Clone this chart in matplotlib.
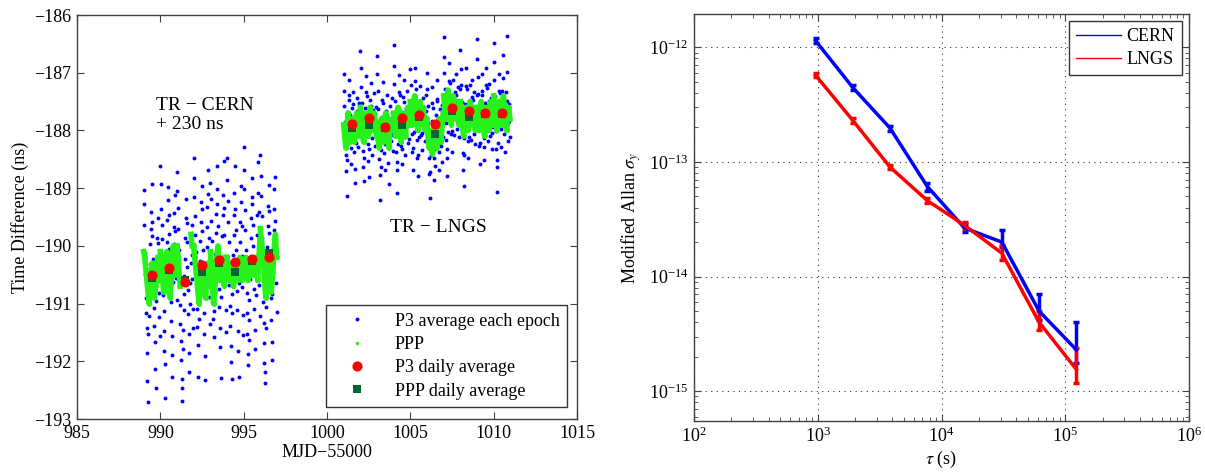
import numpy as np
import matplotlib
matplotlib.use("Agg")
import matplotlib.pyplot as plt
from matplotlib.lines import Line2D
from matplotlib.ticker import NullFormatter

plt.rcParams['font.family'] = ['Liberation Serif', 'DejaVu Serif']
plt.rcParams['mathtext.fontset'] = 'stix'
plt.rcParams['font.size'] = 13

# ---------------- left panel data (MJD-55000, ns) ----------------
cern_days = [989, 990, 991, 992, 993, 994, 995, 996]
lngs_days = [1001, 1002, 1003, 1004, 1005, 1006, 1007, 1008, 1009, 1010]

# P3 average each epoch, one list per day
cern_p3 = [
    [-189.04, -189.27, -189.63, -190.12, -190.48, -190.91, -191.16, -191.42, -191.85, -192.34,
     -192.71, -191.53, -191.22, -190.87, -190.66, -190.31, -189.96, -189.71, -189.42, -188.93,
     -189.58, -189.83, -190.22, -190.57, -190.74, -191.07, -191.38, -191.66, -192.13, -192.46,
     -190.95, -190.42, -190.18, -189.87, -189.52, -189.95, -190.36, -190.81, -191.24, -191.57],
    [-188.61, -188.92, -189.37, -189.64, -189.88, -190.17, -190.53, -190.86, -191.13, -191.48,
     -191.82, -192.04, -192.63, -190.77, -190.45, -190.28, -189.93, -189.55, -189.21, -188.98,
     -189.46, -189.79, -190.06, -190.39, -190.71, -190.97, -191.31, -191.57, -191.89, -192.27,
     -190.62, -190.33, -189.96, -189.68, -189.43, -189.12, -189.74, -190.21, -190.55, -190.93],
    [-188.72, -189.05, -189.34, -189.71, -190.08, -190.41, -190.69, -191.03, -191.36, -191.64,
     -191.97, -192.31, -192.68, -192.47, -191.78, -191.46, -191.12, -190.84, -190.52, -190.23,
     -189.87, -189.52, -189.18, -189.61, -189.94, -190.37, -190.76, -191.18, -191.52, -191.86,
     -192.18, -191.01, -190.64, -190.29, -189.97, -189.63, -190.15, -190.58, -191.09, -191.42],
    [-188.47, -188.83, -189.16, -189.49, -189.82, -190.11, -190.43, -190.78, -191.09, -191.41,
     -191.72, -192.28, -191.26, -190.94, -190.62, -190.27, -189.91, -189.58, -189.24, -188.96,
     -189.37, -189.74, -190.08, -190.46, -190.83, -191.17, -191.53, -191.91, -192.33, -190.71,
     -190.38, -190.02, -189.67, -189.33, -188.69, -189.11, -189.86, -190.31, -190.88, -191.36],
    [-188.91, -189.19, -189.57, -189.92, -190.26, -190.63, -190.98, -191.27, -191.58, -191.13,
     -190.81, -190.47, -190.14, -189.78, -189.44, -189.02, -188.62, -189.28, -189.66, -190.04,
     -190.39, -190.74, -191.06, -191.42, -191.76, -192.29, -190.88, -190.53, -190.19, -189.83,
     -189.47, -189.12, -188.53, -189.35, -189.81, -190.23, -190.68, -191.11, -191.49, -190.41],
    [-188.48, -188.86, -189.23, -189.59, -189.94, -190.32, -190.67, -191.04, -191.38, -191.73,
     -192.02, -192.31, -191.17, -190.83, -190.49, -190.16, -189.81, -189.47, -189.09, -188.61,
     -189.36, -189.72, -190.07, -190.42, -190.79, -191.12, -191.47, -191.83, -192.28, -190.64,
     -190.27, -189.93, -189.58, -189.24, -188.97, -189.65, -190.18, -190.72, -191.19, -191.54],
    [-188.29, -188.68, -189.02, -189.38, -189.73, -190.08, -190.44, -190.81, -191.16, -191.52,
     -191.88, -192.07, -191.63, -191.28, -190.93, -190.58, -190.22, -189.87, -189.51, -189.16,
     -188.82, -189.27, -189.64, -190.01, -190.38, -190.74, -191.09, -191.46, -191.79, -190.86,
     -190.51, -190.17, -189.82, -189.46, -189.08, -188.54, -189.41, -190.13, -190.67, -191.21],
    [-188.43, -188.79, -189.13, -189.48, -189.86, -190.24, -190.61, -190.97, -191.34, -191.69,
     -192.03, -192.38, -192.19, -191.42, -191.06, -190.72, -190.37, -190.02, -189.66, -189.31,
     -188.94, -189.39, -189.77, -190.15, -190.53, -190.91, -191.28, -191.66, -191.97, -190.84,
     -190.46, -190.09, -189.73, -189.37, -189.02, -188.81, -189.57, -190.12, -190.64, -191.15],
]

lngs_p3 = [
    [-187.02, -187.31, -187.58, -187.86, -188.14, -188.43, -188.71, -189.13, -188.52, -188.26,
     -187.97, -187.68, -187.39, -187.12, -187.47, -187.74, -188.03, -188.31, -188.58, -188.17,
     -187.89, -187.61, -187.33, -187.55, -187.82, -188.09, -188.37, -188.66, -188.91, -188.22,
     -187.94, -187.66, -187.43, -187.71, -187.99, -188.28, -188.05, -187.78, -187.52, -187.84],
    [-186.63, -186.92, -187.24, -187.53, -187.81, -188.08, -188.36, -188.64, -188.87, -188.48,
     -188.19, -187.91, -187.62, -187.34, -187.05, -187.41, -187.69, -187.96, -188.24, -188.53,
     -188.81, -188.33, -188.04, -187.76, -187.47, -187.18, -187.57, -187.86, -188.13, -188.42,
     -187.93, -187.64, -187.36, -187.72, -188.01, -188.27, -187.83, -187.59, -187.88, -188.16],
    [-186.71, -187.03, -187.32, -187.63, -187.92, -188.21, -188.49, -188.78, -189.21, -188.63,
     -188.34, -188.06, -187.77, -187.48, -187.16, -187.52, -187.81, -188.11, -188.39, -188.68,
     -188.24, -187.95, -187.67, -187.38, -187.73, -188.02, -188.29, -188.57, -188.93, -188.14,
     -187.86, -187.58, -187.91, -188.19, -188.03, -187.69, -187.44, -187.79, -188.08, -188.36],
    [-186.52, -186.88, -187.19, -187.49, -187.78, -188.07, -188.38, -188.69, -189.08, -188.54,
     -188.23, -187.94, -187.63, -187.33, -187.04, -187.38, -187.68, -187.98, -188.27, -188.58,
     -188.32, -188.02, -187.73, -187.42, -187.13, -187.51, -187.82, -188.12, -188.43, -187.92,
     -187.61, -187.31, -187.64, -187.93, -188.21, -187.84, -187.57, -187.86, -188.14, -187.72],
    [-186.94, -187.21, -187.49, -187.77, -188.06, -188.38, -188.69, -188.31, -188.02, -187.73,
     -187.42, -187.14, -186.91, -187.28, -187.57, -187.86, -188.17, -188.47, -188.79, -188.43,
     -188.12, -187.83, -187.54, -187.23, -187.51, -187.79, -188.08, -188.34, -188.04, -187.74,
     -187.44, -187.69, -187.98, -187.61, -187.89, -188.18, -187.94, -187.66, -187.38, -187.81],
    [-187.01, -187.29, -187.58, -187.87, -188.16, -188.47, -188.76, -189.17, -188.72, -188.43,
     -188.13, -187.84, -187.53, -187.24, -187.61, -187.91, -188.19, -188.48, -188.86, -188.62,
     -188.33, -188.04, -187.74, -187.45, -187.13, -187.49, -187.78, -188.07, -188.37, -188.68,
     -188.24, -187.93, -187.63, -187.97, -188.27, -188.54, -187.82, -187.56, -187.87, -188.11],
    [-186.38, -186.72, -187.01, -187.29, -187.58, -187.87, -188.16, -188.47, -188.79, -188.32,
     -188.03, -187.74, -187.43, -187.14, -186.83, -187.18, -187.47, -187.76, -188.06, -188.38,
     -188.01, -187.71, -187.42, -187.12, -187.46, -187.77, -188.08, -187.63, -187.34, -187.03,
     -187.39, -187.68, -187.97, -187.53, -187.24, -187.81, -188.12, -187.85, -187.57, -187.28],
    [-186.61, -186.93, -187.22, -187.51, -187.79, -188.09, -188.39, -188.68, -188.97, -188.42,
     -188.13, -187.83, -187.54, -187.23, -186.92, -187.28, -187.57, -187.88, -188.18, -188.47,
     -188.12, -187.82, -187.52, -187.21, -187.58, -187.87, -188.16, -187.71, -187.42, -187.12,
     -187.47, -187.77, -188.06, -187.63, -187.34, -187.92, -188.23, -187.96, -187.67, -187.39],
    [-186.42, -186.77, -187.08, -187.37, -187.66, -187.96, -188.27, -188.58, -188.21, -187.91,
     -187.62, -187.31, -187.02, -187.38, -187.67, -187.97, -188.28, -188.51, -188.13, -187.82,
     -187.53, -187.22, -186.91, -187.27, -187.58, -187.88, -188.18, -187.79, -187.49, -187.19,
     -187.56, -187.86, -188.09, -187.73, -187.43, -187.76, -188.04, -188.33, -187.94, -187.64],
    [-186.49, -186.81, -187.12, -187.41, -187.72, -188.01, -188.32, -188.63, -189.07, -188.52,
     -188.22, -187.92, -187.62, -187.31, -187.02, -187.36, -187.67, -187.98, -188.29, -187.91,
     -187.61, -187.32, -186.69, -187.09, -187.47, -187.78, -188.07, -188.38, -187.93, -187.63,
     -187.34, -186.37, -186.98, -187.49, -187.87, -188.18, -187.82, -187.54, -187.83, -188.12],
]

nan = np.nan
# PPP solution, one list per day
cern_ppp = [
    [-190.1, -190.2, -190.4, -190.6, -190.8, -191.0, -190.8, -190.5, -190.3, -190.6, -190.9, -190.7, -190.4, -190.2, -190.4, -190.6],
    [-190.1, -190.3, -190.5, -190.8, -190.6, -190.3, -190.1, -190.4, -190.7, -190.9, -190.6, -190.3, -190.0, -190.2, -190.5, -190.4],
    [-190.0, -190.2, -190.5, -190.7, nan, nan, nan, nan, nan, nan, nan, nan, nan, -189.8, -190.0, nan],
    [-190.0, -190.2, -190.4, -190.6, -190.8, -191.0, -190.7, -190.5, -190.3, -190.5, -190.7, -190.9, -190.6, -190.3, -190.5, -190.7],
    [-190.1, -190.4, -190.7, -191.0, -190.8, -190.5, -190.2, -190.0, -190.3, -190.6, -190.4, -190.2, -190.5, -190.7, -190.4, -190.2],
    [-190.2, -190.4, -190.6, -190.5, -190.3, -190.5, -190.7, -190.5, -190.3, -190.5, -190.6, -190.4, -190.2, -190.4, -190.6, -190.5],
    [-190.3, -190.4, -190.2, -190.4, -190.6, -190.5, -190.3, -190.2, -190.4, -190.5, -190.3, -190.2, -190.4, -190.6, -190.3, -189.9],
    [-189.7, -189.9, -190.1, -190.3, -190.6, -190.9, -190.7, -190.4, -190.2, -190.5, -190.8, -190.6, -190.3, -190.0, -189.8, -190.2],
]
lngs_ppp = [
    [-187.9, -188.1, -188.3, -188.0, -187.7, -187.9, -188.2, -188.0, -187.8, -188.1, -188.2, -187.9, -187.7, -188.0, -188.1, -187.9],
    [-187.6, -187.8, -188.0, -188.2, -187.9, -187.7, -187.9, -188.1, -187.8, -187.6, -187.8, -188.0, -187.9, -187.7, -187.9, -188.1],
    [-187.9, -188.1, -188.3, -188.0, -187.8, -188.0, -188.2, -187.9, -187.7, -187.9, -188.1, -188.3, -188.0, -187.8, -188.0, -187.9],
    [-187.7, -187.9, -188.1, -187.8, -187.6, -187.8, -188.0, -188.2, -187.9, -187.7, -187.9, -188.1, -187.8, -187.6, -187.8, -187.9],
    [-187.5, -187.7, -187.9, -187.6, -187.4, -187.6, -187.8, -188.0, -187.7, -187.5, -187.7, -187.9, -187.6, -187.8, -188.0, -187.8],
    [-187.9, -188.1, -188.3, -188.0, -188.2, -188.4, -188.1, -187.9, -188.1, -188.3, -188.0, -187.8, -188.0, -188.2, -187.9, -187.7],
    [-187.4, -187.6, -187.8, -187.5, -187.3, -187.5, -187.7, -187.9, -187.6, -187.4, -187.6, -187.8, -187.5, -187.7, -187.9, -187.6],
    [-187.5, -187.7, -187.9, -188.1, -187.8, -187.6, -187.8, -188.0, -187.7, -187.5, -187.7, -187.9, -187.6, -187.8, -188.0, -187.7],
    [-187.6, -187.8, -188.0, -187.7, -187.5, -187.7, -187.9, -188.1, -187.8, -187.6, -187.8, -188.0, -187.7, -187.5, -187.7, -187.9],
    [-187.4, -187.6, -187.8, -188.0, -187.7, -187.5, -187.7, -187.9, -187.6, -187.4, -187.6, -187.8, -188.0, -187.7, -187.6, -187.8],
]

# daily averages (plotted at mid-day)
cern_p3_daily = [-190.51, -190.38, -190.62, -190.34, -190.24, -190.28, -190.22, -190.20]
cern_ppp_daily = [-190.56, -190.42, -190.60, -190.45, -190.30, -190.45, -190.26, -190.13]
lngs_p3_daily = [-187.88, -187.79, -187.94, -187.79, -187.74, -187.89, -187.62, -187.66, -187.69, -187.69]
lngs_ppp_daily = [-187.96, -187.90, -187.95, -187.91, -187.76, -188.07, -187.66, -187.77, -187.72, -187.71]

# ---------------- right panel data ----------------
tau = [960, 1920, 3840, 7680, 15360, 30720, 61440, 122880]
cern_mdev = [1.14e-12, 4.45e-13, 1.97e-13, 6.1e-14, 2.65e-14, 2.0e-14, 5.0e-15, 2.3e-15]
cern_lo = [1.08e-12, 4.25e-13, 1.85e-13, 5.6e-14, 2.45e-14, 1.8e-14, 4.2e-15, 1.77e-15]
cern_hi = [1.20e-12, 4.65e-13, 2.07e-13, 6.5e-14, 2.85e-14, 2.55e-14, 7.0e-15, 4.0e-15]
lngs_mdev = [5.7e-13, 2.3e-13, 9.0e-14, 4.6e-14, 2.8e-14, 1.6e-14, 4.0e-15, 1.55e-15]
lngs_lo = [5.45e-13, 2.2e-13, 8.6e-14, 4.35e-14, 2.6e-14, 1.4e-14, 3.4e-15, 1.18e-15]
lngs_hi = [5.95e-13, 2.4e-13, 9.4e-14, 4.85e-14, 3.0e-14, 1.88e-14, 5.0e-15, 2.4e-15]

BLUE = (0, 0, 1)
GREEN = (0.15, 0.95, 0.1)
RED = (1, 0, 0)
DKGREEN = (0.0, 0.4, 0.2)
SPINE = '0.25'

fig = plt.figure(figsize=(12.05, 4.75), dpi=100)
ax1 = fig.add_axes([77 / 1205, 56 / 475, 500 / 1205, 404 / 475])
ax2 = fig.add_axes([694 / 1205, 54 / 475, 495 / 1205, 407 / 475])

# ---- left ----
for days, p3 in ((cern_days, cern_p3), (lngs_days, lngs_p3)):
    for d, vals in zip(days, p3):
        x = np.linspace(d, d + 0.97, len(vals))
        ax1.plot(x, vals, 'o', color=BLUE, ms=2.8, mew=0, zorder=2)
for days, ppp in ((cern_days, cern_ppp), (lngs_days, lngs_ppp)):
    for d, vals in zip(days, ppp):
        x = np.linspace(d, d + 0.97, len(vals))
        ax1.plot(x, vals, '-', color=GREEN, lw=4, zorder=3)
        ax1.plot(x, vals, 'o', color=GREEN, ms=3.5, mew=0, zorder=3)

mid_c = np.array(cern_days) + 0.5
mid_l = np.array(lngs_days) + 0.5
ax1.plot(mid_c, cern_ppp_daily, 's', color=DKGREEN, ms=5.5, mew=0, zorder=4)
ax1.plot(mid_l, lngs_ppp_daily, 's', color=DKGREEN, ms=5.5, mew=0, zorder=4)
ax1.plot(mid_c, cern_p3_daily, 'o', color=RED, ms=7.3, mew=0, zorder=5)
ax1.plot(mid_l, lngs_p3_daily, 'o', color=RED, ms=7.3, mew=0, zorder=5)

ax1.set_xlim(985, 1015)
ax1.set_ylim(-193, -186)
ax1.set_xticks([985, 990, 995, 1000, 1005, 1010, 1015])
ax1.set_yticks([-193, -192, -191, -190, -189, -188, -187, -186])
ax1.set_xlabel('MJD\u221255000', labelpad=2)
ax1.set_ylabel('Time Difference (ns)', labelpad=4)

ax1.text(989.75, -187.42, 'TR \u2212 CERN\n+ 230 ns', ha='left', va='top', fontsize=14, linespacing=1.15)
ax1.text(1003.75, -189.69, 'TR \u2212 LNGS', ha='left', va='center', fontsize=14)

handles = [
    Line2D([], [], ls='none', marker='o', color=BLUE, ms=2.8, mew=0),
    Line2D([], [], ls='none', marker='o', color=GREEN, ms=2.5, mew=0),
    Line2D([], [], ls='none', marker='o', color=RED, ms=7.3, mew=0),
    Line2D([], [], ls='none', marker='s', color=DKGREEN, ms=5.5, mew=0),
]
labels = ['P3 average each epoch', 'PPP', 'P3 daily average', 'PPP daily average']
leg1 = ax1.legend(handles, labels, loc='lower right', bbox_to_anchor=(0.98, 0.03),
                  borderaxespad=0, fancybox=False, framealpha=1, edgecolor='0.2',
                  handlelength=2.6, labelspacing=0.35, borderpad=0.4, fontsize=13)
leg1.get_frame().set_linewidth(1.0)

# ---- right ----
for y, lo, hi, col in ((cern_mdev, cern_lo, cern_hi, BLUE), (lngs_mdev, lngs_lo, lngs_hi, RED)):
    y = np.array(y)
    yerr = [y - np.array(lo), np.array(hi) - y]
    ax2.errorbar(tau, y, yerr=yerr, color=col, lw=2.5, elinewidth=2.5, capsize=2, capthick=2.5)

ax2.set_xscale('log')
ax2.set_yscale('log')
ax2.set_xticks([1e2, 1e3, 1e4, 1e5, 1e6])
ax2.set_yticks([1e-15, 1e-14, 1e-13, 1e-12])
ax2.xaxis.set_minor_formatter(NullFormatter())
ax2.yaxis.set_minor_formatter(NullFormatter())
ax2.set_xlim(1e2, 1e6)
ax2.set_ylim(5.5e-16, 1.95e-12)
ax2.grid(True, which='major', ls=(0, (1, 4)), color='0.2', lw=0.8)
ax2.set_xlabel(r'$\tau$ (s)', labelpad=2)
ax2.set_ylabel(r'Modified Allan $\sigma_y$', labelpad=4)

leg2_handles = [Line2D([], [], color=BLUE, lw=1), Line2D([], [], color=RED, lw=1)]
leg2 = ax2.legend(leg2_handles, ['CERN', 'LNGS'], loc='upper right', fancybox=False,
                  framealpha=1, edgecolor='0.2', handlelength=2.5, handletextpad=0.3,
                  labelspacing=0.3, borderaxespad=0.4, fontsize=13)
leg2.get_frame().set_linewidth(1.0)

for ax in (ax1, ax2):
    for s in ax.spines.values():
        s.set_color(SPINE)
        s.set_linewidth(1.0)
    ax.tick_params(which='both', direction='in', top=True, right=True, color=SPINE, labelsize=13)
    ax.tick_params(which='major', length=5, pad=4)
    ax.tick_params(which='minor', length=3)

fig.savefig('out.png', dpi=100)
